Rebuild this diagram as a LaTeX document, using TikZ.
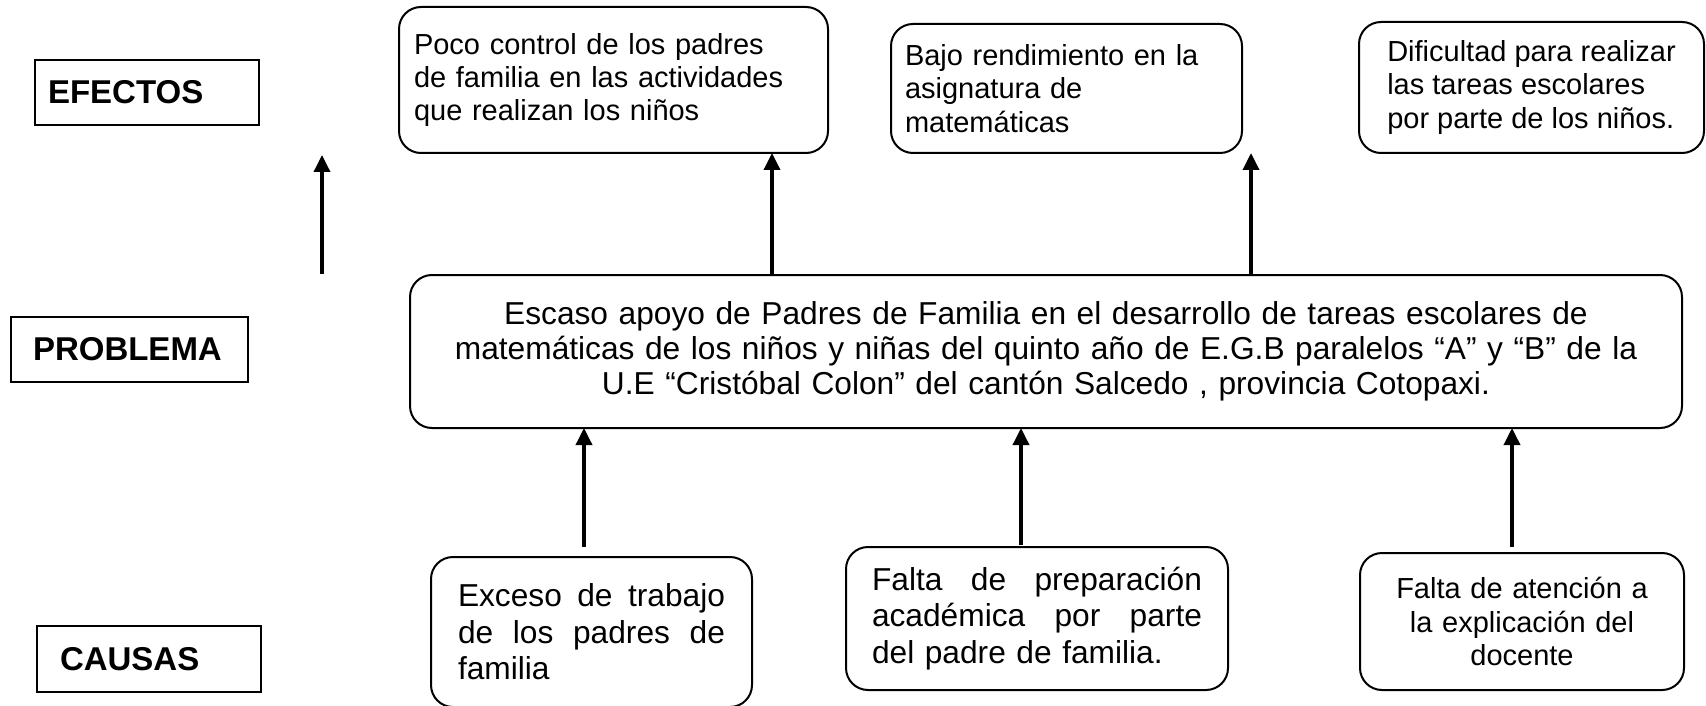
\documentclass[tikz,border=0pt]{standalone}
\usepackage{fontspec}
\setmainfont{Liberation Sans}
\usetikzlibrary{arrows.meta}

\begin{document}
\begin{tikzpicture}[x=1pt,y=-1pt,line width=2pt] %% arbol de problemas
	\tikzstyle{etiqueta}=[draw,anchor=north west,align=left,outer sep=0pt,inner ysep=0pt,font=\bfseries\fontsize{33}{38}\selectfont];
	\tikzstyle{caja}=[draw,rounded corners=22pt,anchor=north west,outer sep=0pt,inner ysep=0pt];
	\tikzstyle{chico}=[font=\fontsize{29}{33.4}\selectfont];
	\tikzstyle{grande}=[font=\fontsize{31.7}{36.5}\selectfont];
	\tikzstyle{flecha}=[-{Triangle[width=16pt,length=17pt]},line width=3.5pt];
	\useasboundingbox (0,0) rectangle (1706,706);
	%% etiquetas de la izquierda
	\node[etiqueta,minimum width=224pt,minimum height=65pt,text width=198pt,inner xsep=13pt] (efe) at (35,60) {EFECTOS};
	\node[etiqueta,minimum width=237pt,minimum height=65pt,text width=193pt,inner xsep=22pt] (pro) at (11,317) {PROBLEMA};
	\node[etiqueta,minimum width=224pt,minimum height=66pt,text width=178pt,inner xsep=23pt] (cau) at (37,626) {CAUSAS};
	\coordinate (a0) at (322,274);
	\coordinate (a0t) at (322,155);
	\draw[flecha] (a0) -- (a0t);
	%% efectos
	\node[caja,chico,align=left,minimum height=146pt,text width=399pt,inner xsep=15pt] (ef1) at (399,7)
		{Poco control de los padres\\ de familia en las actividades\\ que realizan los niños};
	\node[caja,chico,align=left,minimum height=129pt,text width=323pt,inner xsep=14pt] (ef2) at (891,24)
		{Bajo rendimiento en la\\ asignatura de\\ matemáticas};
	\node[caja,chico,align=left,minimum height=131pt,minimum width=345pt,inner xsep=0pt] (ef3) at (1359,22)
		{Dificultad para realizar\\ las tareas escolares\\ por parte de los niños.};
	%% problema central
	\node[caja,align=center,minimum height=153pt,text width=1232pt,inner xsep=20pt,font=\fontsize{31.7}{35}\selectfont] (prob) at (410,275)
		{Escaso apoyo de Padres de Familia en el desarrollo de tareas escolares de\\ matemáticas de los niños y niñas del quinto año de E.G.B paralelos “A” y “B” de la\\ U.E “Cristóbal Colon” del cantón Salcedo , provincia Cotopaxi.};
	%% causas
	\node[caja,grande,align=left,minimum height=150pt,text width=267pt,inner xsep=27pt] (ca1) at (431,557)
		{\makebox[267pt]{Exceso\hfill de\hfill trabajo}\\ \makebox[267pt]{de\hfill los\hfill padres\hfill de}\\ familia};
	\node[caja,grande,align=left,minimum height=143pt,text width=330pt,inner xsep=26pt] (ca2) at (846,547)
		{\makebox[330pt]{Falta\hfill de\hfill preparación}\\ \makebox[330pt]{académica\hfill por\hfill parte}\\ del padre de familia.};
	\node[caja,chico,align=center,minimum height=137pt,text width=290pt,inner xsep=17pt] (ca3) at (1360,553)
		{Falta de atención a\\ la explicación del\\ docente};
	%% flechas
	\coordinate (x1) at (772,0);
	\coordinate (x2) at (1251,0);
	\coordinate (x3) at (584,0);
	\coordinate (x4) at (1021,0);
	\coordinate (x5) at (1512,0);
	\draw[flecha] (x1 |- prob.north) -- (x1 |- ef1.south);
	\draw[flecha] (x2 |- prob.north) -- (x2 |- ef2.south);
	\draw[flecha,shorten <=10pt] (x3 |- ca1.north) -- (x3 |- prob.south);
	\draw[flecha,shorten <=2pt] (x4 |- ca2.north) -- (x4 |- prob.south);
	\draw[flecha,shorten <=6pt] (x5 |- ca3.north) -- (x5 |- prob.south);
\end{tikzpicture}
\end{document}
